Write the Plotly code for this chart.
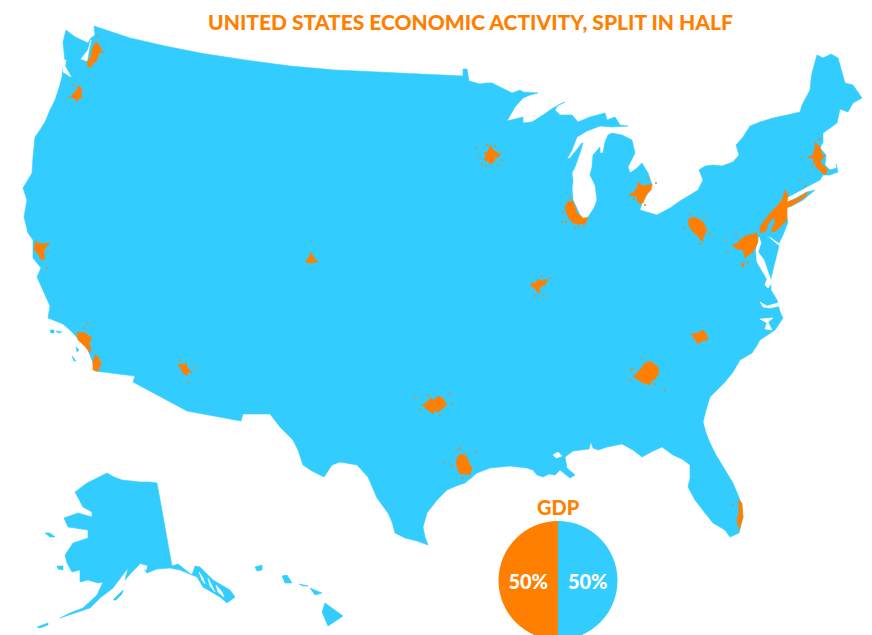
import plotly.graph_objects as go

# picture-read outlines, x right / y down
lower48 = [(94,26),(112,32),(130,38),(165,46),(200,53),(245,60),(290,66),(335,70),(380,72),(420,74),(463,76),(463,69),(467,69),(469,81),(480,84),(486,83),(492,83),
    (502,88),(512,93),(520,90),(523,92),(538,93),(530,95),(523,98),(515,107),(507,121),(515,119),(523,117),(523,123),(532,122),(543,115),(553,108),(565,102),(558,105),(555,110),(560,115),(572,115),
    (578,122),(590,117),(605,113),(607,120),(615,117),(620,125),(628,126),(612,127),(600,126),(587,131),(577,137),(572,150),(567,159),(570,158),(578,148),(582,143),
    (583,143),(580,153),(575,167),(572,173),(573,182),(572,188),(573,200),(580,215),(583,219),(588,217),(594,208),(597,200),(595,185),(590,175),(592,167),(593,155),(600,147),
    (600,153),(603,153),(605,142),(608,135),(612,133),(622,135),(632,140),(635,153),(628,167),(630,173),(637,168),(642,163),(648,173),(652,185),(648,193),(642,203),
    (640,210),(650,213),(657,215),(670,208),(680,201),(690,195),(698,190),(703,180),(699,170),(705,166),(713,165),(722,166),(733,162),(739,155),(736,145),(743,137),(750,126),(760,122),(773,118),(787,115),(800,112),
    (802,105),(806,97),(810,90),(811,80),(812,73),(815,62),(817,55),(823,58),(831,54),(838,58),(841,70),(845,83),(853,85),(858,92),(862,98),(853,103),(848,112),(840,109),(837,123),(830,128),(823,133),
    (823,142),(820,148),(826,155),(825,165),(830,170),(837,168),(836,164),(838,172),(830,175),(823,175),(820,180),(807,187),(788,197),(780,205),(785,210),(788,222),
    (783,235),(779,243),(772,238),(766,235),(772,240),(779,246),(775,262),(771,278),(771,290),(773,293),(777,300),(780,312),(783,318),(775,330),(767,335),(760,340),(756,347),(752,353),
    (740,360),(733,372),(725,382),(717,390),(710,397),(706,410),(703,422),(706,433),(710,443),(716,455),(723,467),(733,483),(740,500),(743,517),(739,533),(730,537),(725,530),(713,523),
    (705,513),(695,500),(688,487),(690,478),(690,465),(682,459),(673,455),(662,447),(653,451),(642,457),(633,450),(622,444),(607,447),(598,450),(593,448),(591,442),(589,449),(573,451),
    (565,457),(567,468),(575,475),(570,478),(560,470),(555,475),(549,474),(543,477),(537,475),(533,470),(527,468),(519,467),(510,466),(500,467),(490,468),(477,473),(465,483),(456,486),(447,490),(437,500),
    (427,513),(423,527),(425,537),(428,545),(417,541),(405,538),(395,533),(392,522),(388,513),(377,498),(372,487),(368,477),(357,465),(340,462),(332,465),(324,477),(312,471),(303,465),(298,450),(293,440),(280,427),
    (270,414),(243,414),(241,421),(187,411),(133,382),(135,376),(95,371),(93,363),(88,350),(72,332),(63,324),(48,318),(50,306),(46,297),(42,288),(37,277),(41,268),
    (33,258),(33,240),(28,233),(24,217),(27,200),(23,188),(28,180),(32,173),(33,157),(35,137),(40,130),(45,122),(50,110),(55,100),(59,88),(62,77),(63,67),(65,62),(64,52),(63,42),(66,30),(75,37),(88,43),(91,38),(95,35)]
long_island = [(787,203),(807,192),(815,190),(803,200),(790,207)]
alaska = [(157,483),(172,566),(178,564),(192,575),(195,566),(200,567),(213,580),(230,590),(235,597),(227,603),(220,597),(203,587),(197,577),(180,570),(170,568),
    (157,569),(147,573),(140,564),(132,572),(125,580),(128,568),(118,582),(113,588),(100,598),(90,608),(78,612),(60,618),(70,613),(83,608),(97,595),(103,582),(98,583),
    (88,580),(80,582),(80,570),(72,572),(67,563),(65,555),(73,543),(88,538),(88,530),(75,528),(68,527),(64,518),(78,513),(92,517),(92,512),(83,507),(79,499),(75,492),(87,483),(97,478),
    (107,473),(114,477),(122,480),(131,481),(140,482),(150,482)]
small_islands = [
    [(37,627),(48,623),(48,625),(40,628)],
    [(113,600),(123,590),(122,594),(116,600)],
    [(45,533),(50,533),(55,537),(50,537)],
    [(57,566),(63,566),(63,570),(58,569)],
    [(255,567),(262,565),(262,570),(257,571)],
    [(282,576),(287,575),(292,583),(285,583)],
    [(299,584),(308,586),(303,586)],
    [(310,588),(322,593),(315,595)],
    [(325,603),(343,616),(328,626),(322,612)],
    [(50,330),(54,330),(54,333),(51,333)],
    [(56,331),(62,332),(58,333)],
    [(76,347),(79,350),(77,352)],
    [(72,356),(76,361),(74,361)],
]
water = [
    [(759,237),(761,243),(758,252),(764,260),(768,272),(772,283),(768,288),(765,285),(767,279),(762,270),(757,262),(756,250)],
    [(760,302),(767,306),(778,303),(779,306),(770,308),(763,307)],
    [(760,319),(773,318),(768,322),(772,330),(765,329),(767,323)],
    [(553,455),(558,452),(562,456),(556,458)],
    [(91,40),(88,50),(81,59),(87,61),(89,50)],
    [(63,60),(66,60),(65,66),(71,77),(63,72)],
    [(199,572),(203,578),(205,584),(202,580)],
    [(208,578),(212,586),(215,592),(210,586)],
    [(216,585),(222,592),(224,597),(218,592)],
    [(140,564),(147,566),(146,570),(141,568)],
]
seattle = [(97,42),(99,45),(100,47),(102,52),(99,53),(98,57),(96,62),(93,63),(91,67),(88,67),(87,62),(91,57),(92,50),(95,43)]
portland = [(78,86),(82,88),(81,93),(82,98),(79,98),(77,102),(75,99),(71,97),(73,94),(75,91),(77,91)]
sf_bay = [(36,240),(37,243),(43,244),(50,243),(46,247),(44,250),(44,256),(45,259),(41,260),(39,255),(34,250),(35,245)]
los_angeles = [(77,332),(85,333),(92,338),(89,343),(91,349),(90,353),(85,346),(80,342),(78,340)]
san_diego = [(95,355),(99,357),(99,361),(102,363),(100,366),(98,371),(93,370),(93,362)]
phoenix = [(178,365),(181,364),(184,365),(186,362),(187,367),(192,373),(188,372),(187,376),(183,373),(181,369)]
denver = [(305,262),(309,257),(311,252),(314,258),(318,262),(311,263)]
minneapolis = [(484,152),(487,153),(489,149),(490,145),(493,150),(497,152),(500,156),(495,158),(494,162),(491,164),(487,161),(484,160),(486,156)]
chicago = [(567,202),(573,201),(577,213),(583,218),(588,218),(585,224),(579,224),(573,223),(570,220),(568,217),(565,208)]
detroit = [(638,182),(643,186),(652,184),(651,190),(646,195),(643,203),(638,203),(637,197),(629,195),(634,192),(637,188)]
st_louis = [(531,283),(536,283),(538,279),(542,281),(548,279),(545,285),(540,287),(539,294),(536,290),(533,287)]
pittsburgh = [(693,217),(699,219),(703,222),(707,230),(704,236),(702,242),(698,236),(693,232),(689,226),(688,220)]
washington = [(740,240),(745,236),(757,233),(758,242),(755,248),(753,252),(750,254),(745,258),(743,250),(737,249),(732,245),(738,243)]
richmond_bit = [(741,264),(745,263),(743,268)]
northeast = [(760,227),(770,213),(777,206),(782,200),(785,190),(788,195),(787,202),(798,198),(807,192),(806,196),(796,203),(787,208),(787,220),(779,228),
    (775,232),(771,231),(775,222),(774,217),(768,224),(766,231),(760,233)]
boston = [(815,142),(820,147),(822,155),(825,155),(820,162),(823,165),(828,170),(825,175),(817,168),(814,163),(813,158),(807,158),(813,155),(815,148)]
charlotte = [(691,334),(698,333),(702,330),(706,333),(708,340),(702,341),(698,344),(695,340)]
atlanta = [(633,376),(637,372),(640,370),(644,364),(650,361),(653,363),(658,367),(659,372),(656,378),(652,381),(650,385),(646,384),(641,382),(636,378)]
dallas = [(422,405),(428,402),(430,398),(434,400),(438,396),(443,398),(445,402),(447,405),(443,408),(438,412),(435,410),(433,414),(428,410)]
houston = [(457,458),(460,454),(464,455),(467,457),(469,463),(472,468),(470,475),(465,474),(460,474),(458,470),(456,464)]
miami = [(738,500),(742,503),(743,517),(739,530),(737,520),(739,512),(739,505)]
speck_x = [99,103,69,74,48,47,88,84,194,188,180,477,482,500,502,487,563,562,575,584,634,656,531,550,544,684,710,728,726,764,800,805,630,632,665,416,420,450,453,460,452,476,444,98,733,
    495,498,480,486,570,579,566,645,648,535,542,690,700,704,736,748,631,655,642,428,440,458,466,462,819,812]
speck_y = [50,52,97,85,252,268,324,328,368,382,360,148,164,154,160,145,212,222,228,226,199,183,286,278,296,228,234,252,240,221,180,186,380,369,390,398,410,394,404,448,466,452,462,36,505,
    146,165,158,166,198,226,222,205,178,296,276,214,244,216,234,262,370,384,358,395,415,450,453,478,139,166]

title_text = "UNITED STATES ECONOMIC ACTIVITY, SPLIT IN HALF"
pie_title = "GDP"
pie_values = [50, 50]
pie_labels = ["Blue half", "Orange half"]

blue = "#33CCFF"
orange = "#FF8000"

def joined(polys):
    xs, ys = [], []
    for poly in polys:
        xs += [p[0] for p in poly] + [poly[0][0], None]
        ys += [p[1] for p in poly] + [poly[0][1], None]
    return xs, ys

def area(polys, color):
    xs, ys = joined(polys)
    return go.Scatter(x=xs, y=ys, mode="lines", fill="toself", fillcolor=color,
                      line=dict(color=color, width=0.6), hoverinfo="skip", showlegend=False)

fig = go.Figure()
fig.add_trace(area([lower48, long_island, alaska] + small_islands, blue))
fig.add_trace(area(water, "white"))
fig.add_trace(area([seattle, portland, sf_bay, los_angeles, san_diego, phoenix, denver, minneapolis, chicago,
                    detroit, st_louis, pittsburgh, washington, richmond_bit, northeast, boston, charlotte,
                    atlanta, dallas, houston, miami], orange))
fig.add_trace(go.Scatter(x=speck_x, y=speck_y, mode="markers", marker=dict(color=orange, size=2),
                         hoverinfo="skip", showlegend=False))

W, H = 872, 641
fig.add_trace(go.Pie(values=pie_values, labels=pie_labels, sort=False, direction="clockwise", rotation=0,
                     marker=dict(colors=[blue, orange], line=dict(width=0)),
                     textinfo="percent", textposition="inside", insidetextorientation="horizontal",
                     textfont=dict(family="Lato", size=20, color="white", weight=900),
                     domain=dict(x=[498.5 / W, 617.5 / W], y=[1 / H, 120 / H]), showlegend=False))

fig.update_layout(
    width=W, height=H, margin=dict(l=0, r=0, t=0, b=0),
    paper_bgcolor="white", plot_bgcolor="white", showlegend=False,
    xaxis=dict(range=[0, W], visible=False, fixedrange=True),
    yaxis=dict(range=[H, 0], visible=False, fixedrange=True),
    annotations=[
        dict(x=470, y=21, xref="x", yref="y", text=title_text, showarrow=False,
             font=dict(family="Lato", size=21, color=orange, weight=900)),
        dict(x=558, y=507, xref="x", yref="y", text=pie_title, showarrow=False,
             font=dict(family="Lato", size=20, color=orange, weight=900)),
    ],
)

fig.write_html("out.html", config=dict(displayModeBar=False),
               post_script="document.body.style.margin='0';document.body.style.overflow='hidden';")
